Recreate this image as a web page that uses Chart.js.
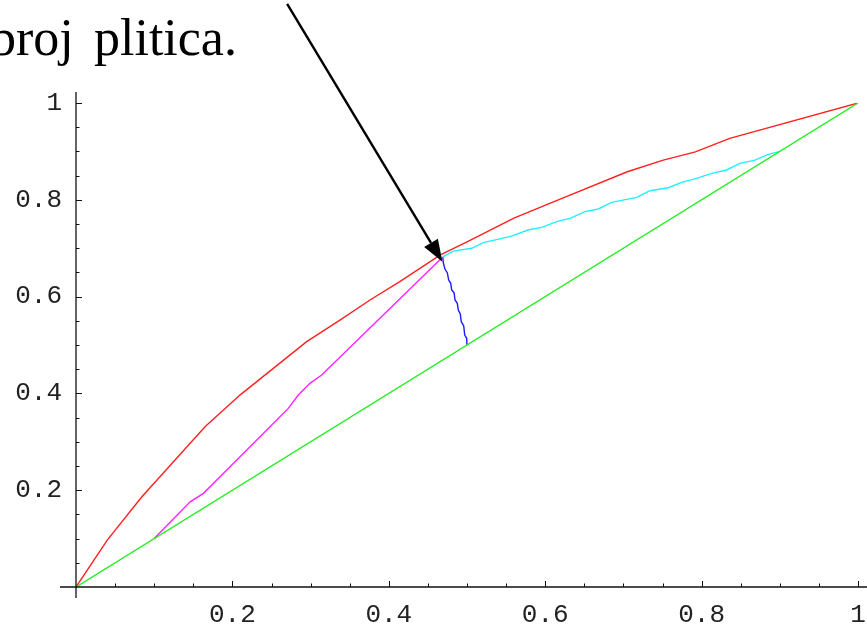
<!DOCTYPE html>
<html>
<head>
<meta charset="utf-8">
<script src="https://cdn.jsdelivr.net/npm/chart.js@4/dist/chart.umd.min.js"></script>
<style>
html,body{margin:0;padding:0;background:#fff;}
canvas{display:block;}
</style>
</head>
<body>
<canvas id="c" width="867" height="628"></canvas>
<script>
// ---- data ----
const redX = [0, 0.04, 0.084, 0.165, 0.21, 0.295, 0.338, 0.376, 0.414, 0.466, 0.5, 0.56, 0.623, 0.705, 0.751, 0.792, 0.836, 1];
const redY = [0, 0.097, 0.186, 0.331, 0.397, 0.507, 0.552, 0.593, 0.631, 0.686, 0.713, 0.762, 0.804, 0.858, 0.882, 0.899, 0.927, 1];

const greenX = [0, 1];
const greenY = [0, 1];

const magentaX = [0.1, 0.146, 0.163, 0.197, 0.244, 0.2715, 0.2843, 0.2992, 0.3142, 0.469];
const magentaY = [0.1, 0.176, 0.1935, 0.2486, 0.3244, 0.369, 0.3967, 0.4208, 0.438, 0.682];

const cyanX = [0.469, 0.4825, 0.506, 0.521, 0.557, 0.578, 0.5955, 0.6147, 0.6317, 0.651, 0.668, 0.685, 0.717, 0.734, 0.7575, 0.7745, 0.7937, 0.8129, 0.832, 0.849, 0.8683, 0.8853, 0.9];
const cyanY = [0.682, 0.694, 0.6998, 0.7114, 0.725, 0.7376, 0.743, 0.7548, 0.7617, 0.7755, 0.781, 0.7948, 0.805, 0.8188, 0.825, 0.836, 0.8444, 0.8547, 0.8616, 0.8754, 0.882, 0.894, 0.9];

const blueX = [0.469, 0.4697, 0.4719, 0.4748, 0.4766, 0.4792, 0.4804, 0.4834, 0.4847, 0.4876, 0.4889, 0.4914, 0.4927, 0.4958, 0.4971, 0.4996, 0.5];
const blueY = [0.682, 0.670, 0.6564, 0.6494, 0.6343, 0.6275, 0.6136, 0.6081, 0.593, 0.5862, 0.5723, 0.564, 0.5481, 0.5393, 0.5207, 0.5138, 0.5];

const xTicks = [0, 0.2, 0.4, 0.6, 0.8, 1];
const yTicks = [0, 0.2, 0.4, 0.6, 0.8, 1];
const minorStep = 0.05;

const titleWords = ['broj', 'plitica.'];
const arrowFrom = {x: 0.27, y: 1.205};
const arrowTo = {x: 0.4685, y: 0.672};

function pts(xs, ys){ return xs.map((x,i)=>({x:x, y:ys[i]})); }
function fmt(v){ const r = Math.round(v*100)/100; return r === 0 ? '' : String(r); }

const lineDs = (label, xs, ys, color) => ({
  label, data: pts(xs, ys), showLine: true, borderColor: color, backgroundColor: color,
  borderWidth: 1.4, pointRadius: 0, tension: 0, fill: false
});

const overlay = {
  id: 'overlay',
  afterDatasetsDraw(chart){
    const ctx = chart.ctx;
    const xs = chart.scales.x, ys = chart.scales.y;
    const x0 = xs.getPixelForValue(0), y0 = ys.getPixelForValue(0);
    ctx.save();
    // axes
    ctx.strokeStyle = '#111';
    ctx.lineWidth = 1.3;
    ctx.beginPath();
    ctx.moveTo(x0, ys.getPixelForValue(1) - 11);
    ctx.lineTo(x0, y0 + 11);
    ctx.moveTo(x0 - 16, y0);
    ctx.lineTo(chart.width, y0);
    ctx.stroke();
    // ticks (inward)
    ctx.lineWidth = 1;
    ctx.beginPath();
    for (let i = 1; i <= 20; i++) {
      const v = i * minorStep;
      const major = (i % 4 === 0);
      const len = major ? 6 : 3.5;
      const px = Math.round(xs.getPixelForValue(v)) + 0.5;
      ctx.moveTo(px, y0); ctx.lineTo(px, y0 - len);
      const py = Math.round(ys.getPixelForValue(v)) + 0.5;
      ctx.moveTo(x0, py); ctx.lineTo(x0 + len, py);
    }
    ctx.stroke();
    // arrow
    const ax = xs.getPixelForValue(arrowFrom.x), ay = ys.getPixelForValue(arrowFrom.y);
    const bx = xs.getPixelForValue(arrowTo.x), by = ys.getPixelForValue(arrowTo.y);
    const ang = Math.atan2(by - ay, bx - ax);
    const hl = 22, hw = 8;
    const baseX = bx - hl * Math.cos(ang), baseY = by - hl * Math.sin(ang);
    ctx.strokeStyle = '#000';
    ctx.lineWidth = 2.4;
    ctx.beginPath();
    ctx.moveTo(ax, ay); ctx.lineTo(baseX, baseY);
    ctx.stroke();
    ctx.fillStyle = '#000';
    ctx.beginPath();
    ctx.moveTo(bx, by);
    ctx.lineTo(baseX + hw * Math.sin(ang), baseY - hw * Math.cos(ang));
    ctx.lineTo(baseX - hw * Math.sin(ang), baseY + hw * Math.cos(ang));
    ctx.closePath();
    ctx.fill();
    // title text (slide text, word-spaced)
    ctx.font = '52px "Liberation Serif", "Times New Roman", serif';
    ctx.textBaseline = 'alphabetic';
    ctx.textAlign = 'left';
    ctx.fillText(titleWords[0], -10, 55);
    ctx.fillText(titleWords[1], 94, 55);
    ctx.restore();
  }
};

const tickFont = { family: '"Liberation Mono", "Courier New", monospace', size: 26 };

new Chart(document.getElementById('c'), {
  type: 'scatter',
  data: {
    datasets: [
      lineDs('green', greenX, greenY, '#22ee22'),
      lineDs('red', redX, redY, '#ff2020'),
      lineDs('magenta', magentaX, magentaY, '#ff22ff'),
      lineDs('cyan', cyanX, cyanY, '#22eeff'),
      lineDs('blue', blueX, blueY, '#1a1aff')
    ]
  },
  options: {
    responsive: false,
    animation: false,
    devicePixelRatio: 1,
    layout: { padding: { left: 0, right: 9, top: 103, bottom: 0 } },
    plugins: { legend: { display: false }, tooltip: { enabled: false } },
    scales: {
      x: {
        type: 'linear', position: 'bottom', min: 0, max: 1,
        grid: { display: false, drawTicks: false },
        border: { display: false },
        afterBuildTicks: (s) => { s.ticks = xTicks.map(v => ({value: v})); },
        ticks: {
          autoSkip: false, maxRotation: 0, padding: 13,
          color: '#222',
          font: tickFont,
          callback: (v) => fmt(v)
        },
        afterFit: (s) => { s.height = 41; s.paddingLeft = 0; s.paddingRight = 0; }
      },
      y: {
        type: 'linear', position: 'left', min: 0, max: 1,
        grid: { display: false, drawTicks: false },
        border: { display: false },
        afterBuildTicks: (s) => { s.ticks = yTicks.map(v => ({value: v})); },
        ticks: {
          autoSkip: false, padding: 14,
          color: '#222',
          font: tickFont,
          callback: (v) => fmt(v)
        },
        afterFit: (s) => { s.width = 76; s.paddingTop = 0; s.paddingBottom = 0; }
      }
    }
  },
  plugins: [overlay]
});
</script>
</body>
</html>
